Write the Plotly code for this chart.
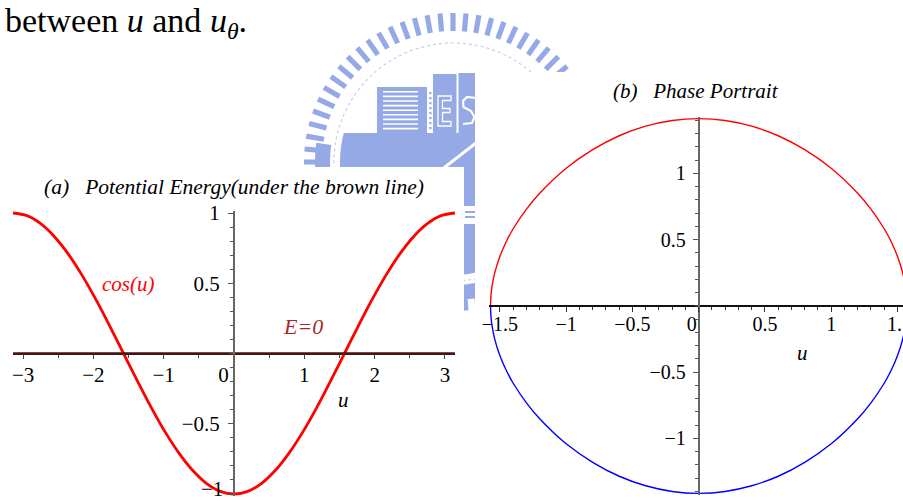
import math
import plotly.graph_objects as go

W, H = 903, 502

# ---------------- data ----------------
# (a) potential curve, sampled in u
u_pot = [-3.142, -2.945, -2.749, -2.553, -2.356, -2.160, -1.963, -1.767, -1.571,
         -1.374, -1.178, -0.982, -0.785, -0.589, -0.393, -0.196, 0.0,
         0.196, 0.393, 0.589, 0.785, 0.982, 1.178, 1.374, 1.571,
         1.767, 1.963, 2.160, 2.356, 2.553, 2.749, 2.945, 3.142]
potential = [1.0, 0.981, 0.924, 0.831, 0.707, 0.556, 0.383, 0.195, 0.0,
             -0.195, -0.383, -0.556, -0.707, -0.831, -0.924, -0.981, -1.0,
             -0.981, -0.924, -0.831, -0.707, -0.556, -0.383, -0.195, 0.0,
             0.195, 0.383, 0.556, 0.707, 0.831, 0.924, 0.981, 1.0]
# energy level E = 0
u_energy = [-3.142, 3.142]
energy = [0.0, 0.0]

# (b) phase portrait: upper (red) and lower (blue) branches
u_phase = [-1.5708, -1.5705, -1.568, -1.565, -1.56, -1.54, -1.50, -1.45, -1.40,
           -1.30, -1.20, -1.00, -0.80, -0.60, -0.40, -0.20, 0.0,
           0.20, 0.40, 0.60, 0.80, 1.00, 1.20, 1.30,
           1.40, 1.45, 1.50, 1.54, 1.56, 1.565, 1.568, 1.5705, 1.5708]
utheta_upper = [0.0, 0.025, 0.075, 0.108, 0.147, 0.248, 0.376, 0.491, 0.583,
                0.731, 0.851, 1.040, 1.180, 1.285, 1.357, 1.400, 1.414,
                1.400, 1.357, 1.285, 1.180, 1.040, 0.851, 0.731,
                0.583, 0.491, 0.376, 0.248, 0.147, 0.108, 0.075, 0.025, 0.0]
utheta_lower = [0.0, -0.025, -0.075, -0.108, -0.147, -0.248, -0.376, -0.491, -0.583,
                -0.731, -0.851, -1.040, -1.180, -1.285, -1.357, -1.400, -1.414,
                -1.400, -1.357, -1.285, -1.180, -1.040, -0.851, -0.731,
                -0.583, -0.491, -0.376, -0.248, -0.147, -0.108, -0.075, -0.025, 0.0]

# tick labels
a_xticks = [-3, -2, -1, 0, 1, 2, 3]
a_xtext = ["\u22123", "\u22122", "\u22121", "0\u2003", "1", "2", "3"]
a_yticks = [-1, -0.5, 0.5, 1]
a_ytext = ["\u22121", "\u22120.5", "0.5", "1"]
b_xticks = [-1.5, -1, -0.5, 0, 0.5, 1, 1.5]
b_xtext = ["\u22121.5", "\u22121", "\u22120.5", "0\u2002\u2009", "0.5", "1", "1.5"]
b_yticks = [-1, -0.5, 0.5, 1]
b_ytext = ["\u22121", "\u22120.5", "0.5", "1"]


def fx(px):
    return px / W


def fy(py):
    return 1 - py / H


SERIF = "Liberation Serif"
TICKFONT_A = dict(family=SERIF, size=21, color="black")
TICKFONT_B = dict(family=SERIF, size=20, color="black")

fig = go.Figure()

fig.add_trace(go.Scatter(x=u_pot, y=potential, mode="lines", xaxis="x", yaxis="y",
                         line=dict(color="#ff0000", width=2.8, shape="spline", smoothing=1.0),
                         hoverinfo="skip"))
fig.add_trace(go.Scatter(x=u_energy, y=energy, mode="lines", xaxis="x", yaxis="y",
                         line=dict(color="#4a1212", width=2.6), hoverinfo="skip"))
fig.add_trace(go.Scatter(x=u_phase, y=utheta_upper, mode="lines", xaxis="x2", yaxis="y2",
                         line=dict(color="#ff0000", width=1.4, shape="spline", smoothing=0.8),
                         hoverinfo="skip"))
fig.add_trace(go.Scatter(x=u_phase, y=utheta_lower, mode="lines", xaxis="x2", yaxis="y2",
                         line=dict(color="#0000ff", width=1.4, shape="spline", smoothing=0.8),
                         hoverinfo="skip"))

# ---------------- watermark emblem drawn behind the plots ----------------
LOGO = "#95a9e6"
CX, CY = 453, 162


def P(x, y):
    return f"{fx(x):.5f},{fy(y):.5f}"


def poly(pts):
    return "M" + " L".join(P(x, y) for x, y in pts) + " Z"


def circle_pts(r, a0, a1, n):
    out = []
    for i in range(n + 1):
        a = math.radians(a0 + (a1 - a0) * i / n)
        out.append((CX + r * math.cos(a), CY - r * math.sin(a)))
    return out


shapes = []

# comb of teeth around the ring
teeth = []
step = 5.0
a = 0.0
while a < 360:
    t = math.radians(a)
    c, s = math.cos(t), math.sin(t)
    half = 2.6
    r0, r1 = 131, 149
    pts = [(CX + r0 * c - half * s, CY - r0 * s - half * c),
           (CX + r1 * c - half * s, CY - r1 * s - half * c),
           (CX + r1 * c + half * s, CY - r1 * s + half * c),
           (CX + r0 * c + half * s, CY - r0 * s + half * c)]
    teeth.append(poly(pts))
    a += step
shapes.append(dict(type="path", path=" ".join(teeth), xref="paper", yref="paper",
                   fillcolor=LOGO, line=dict(width=0), layer="below"))

# solid band along the lower half of the ring
outer = circle_pts(138, 172, 368, 90)
inner = circle_pts(123, 368, 172, 90)
shapes.append(dict(type="path", path=poly(outer + inner), xref="paper", yref="paper",
                   fillcolor=LOGO, line=dict(width=0), layer="below"))

# faint inner circle
shapes.append(dict(type="path", path=poly(circle_pts(119, 0, 360, 120)), xref="paper", yref="paper",
                   fillcolor="rgba(0,0,0,0)", line=dict(color="#c3cef2", width=1.2, dash="dot"),
                   layer="below"))

# hull: lower segment of the inner disk
hr = 113
a_top = math.degrees(math.asin((CY - 133) / hr))
hull = circle_pts(hr, a_top, -180 - a_top, 80)
shapes.append(dict(type="path", path=poly(hull), xref="paper", yref="paper",
                   fillcolor=LOGO, line=dict(width=0), layer="below"))


def rect(x0, y0, x1, y1, color):
    return dict(type="rect", x0=fx(x0), x1=fx(x1), y0=fy(y1), y1=fy(y0), xref="paper", yref="paper",
                fillcolor=color, line=dict(width=0), layer="below")


# buildings on deck
shapes.append(rect(377, 87, 427, 134, LOGO))
for i in range(9):
    yy = 91 + i * 4.6
    shapes.append(rect(383, yy, 418, yy + 1.6, "white"))
for i in range(8):
    yy = 92 + i * 5
    shapes.append(rect(429.3, yy, 431.5, yy + 2.2, LOGO))
shapes.append(rect(433, 74, 456.5, 134, LOGO))
shapes.append(rect(458.5, 73, 480, 134, LOGO))
e_outline = [(438, 96), (451, 96), (451, 100.5), (442.5, 100.5), (442.5, 108.5), (450, 108.5),
             (450, 112.5), (442.5, 112.5), (442.5, 121.5), (451, 121.5), (451, 126), (438, 126)]
shapes.append(dict(type="path", path=poly(e_outline), xref="paper", yref="paper",
                   fillcolor="rgba(0,0,0,0)", line=dict(color="white", width=1.3), layer="below"))
s_curve = [(476, 98), (467, 97), (463, 101), (463.5, 107), (471, 111), (474.5, 117),
           (472, 123), (463, 124)]
shapes.append(dict(type="path", path="M" + " L".join(P(x, y) for x, y in s_curve),
                   xref="paper", yref="paper", line=dict(color="white", width=2.2), layer="below"))
# diagonal stripe across the hull
shapes.append(dict(type="line", x0=fx(436), y0=fy(174), x1=fx(485), y1=fy(136), xref="paper",
                   yref="paper", line=dict(color="white", width=3), layer="below"))
# small badge on the lower hull
shapes.append(rect(462, 206, 480, 224, "white"))
shapes.append(rect(465, 211, 480, 213, LOGO))
shapes.append(rect(465, 216, 480, 218, LOGO))

# white backgrounds of the two plot panels
shapes.append(rect(0, 167, 464, 502, "white"))
shapes.append(rect(475, 72, 903, 502, "white"))

# ---------------- axes ----------------
# panel (a): u in [-pi, pi], value in [-1, 1]
ax_x0, ax_x1 = 13.1, 454.9
ay_top, ay_bot = 213, 494
a_x_zero_px = 234.0
a_y_zero_px = 353.5
# panel (b)
b_scale = 132.5
b_x0_px = 698.7
b_y0_px = 306.0
b_xr = [-1.585, (W - b_x0_px) / b_scale]
b_yr = [-1.425, 1.425]

axis_common = dict(showgrid=False, zeroline=False, showline=True, ticks="outside",
                   tickmode="array", anchor="free", fixedrange=True)

fig.update_layout(
    width=W, height=H, autosize=False,
    margin=dict(l=0, r=0, t=0, b=0, pad=0, autoexpand=False),
    paper_bgcolor="white", plot_bgcolor="rgba(0,0,0,0)",
    showlegend=False,
    xaxis=dict(axis_common, domain=[fx(ax_x0), fx(ax_x1)], range=[-math.pi, math.pi],
               position=fy(a_y_zero_px), tickvals=a_xticks, ticktext=a_xtext, tickfont=TICKFONT_A,
               linecolor="#222222", linewidth=1.5, tickcolor="#444444", ticklen=5, tickwidth=1.2,
               layer="below traces", ticklabelstandoff=-2,
               minor=dict(tickmode="linear", tick0=0, dtick=0.5, ticks="outside", ticklen=4,
                          tickcolor="#444444", tickwidth=1.2)),
    yaxis=dict(axis_common, domain=[fy(ay_bot + 2), fy(ay_top - 2)],
               range=[-1 - 2 / 140.5, 1 + 2 / 140.5],
               position=fx(a_x_zero_px), tickvals=a_yticks, ticktext=a_ytext, tickfont=TICKFONT_A,
               linecolor="#666666", linewidth=2, tickcolor="#555555", ticklen=5, tickwidth=1.2,
               ticklabelstandoff=4,
               minor=dict(tickmode="linear", tick0=0, dtick=0.1, ticks="outside", ticklen=3,
                          tickcolor="#555555", tickwidth=1.2)),
    xaxis2=dict(axis_common, domain=[fx(b_x0_px + b_xr[0] * b_scale), 1.0], range=b_xr,
                position=fy(b_y0_px), tickvals=b_xticks, ticktext=b_xtext, tickfont=TICKFONT_B,
                linecolor="#111111", linewidth=1.5, tickcolor="#333333", ticklen=5, tickwidth=1.2,
                ticklabelstandoff=-5,
                minor=dict(tickmode="linear", tick0=0, dtick=0.1, ticks="outside", ticklen=3,
                           tickcolor="#333333", tickwidth=1.2)),
    yaxis2=dict(axis_common, domain=[fy(b_y0_px - b_yr[0] * b_scale), fy(b_y0_px - b_yr[1] * b_scale)],
                range=b_yr, position=fx(b_x0_px), tickvals=b_yticks, ticktext=b_ytext,
                tickfont=TICKFONT_B, ticklabelstandoff=3,
                linecolor="#666666", linewidth=2, tickcolor="#555555", ticklen=5, tickwidth=1.2,
                minor=dict(tickmode="linear", tick0=0, dtick=0.1, ticks="outside", ticklen=3,
                           tickcolor="#555555", tickwidth=1.2)),
    shapes=shapes,
)


def note(text, x, y, size, color="black", xanchor="center", yanchor="middle"):
    fig.add_annotation(text=text, x=fx(x), y=fy(y), xref="paper", yref="paper",
                       xanchor=xanchor, yanchor=yanchor, showarrow=False, align="left",
                       borderpad=0,
                       font=dict(family=SERIF, size=size, color=color))


note("between <i>u</i> and <i>u<sub>\u03b8</sub></i>.", 4, 1, 34, xanchor="left", yanchor="top")
note("<i>(a)\u00a0\u00a0\u00a0Potential Energy(under the brown line)</i>", 233.5, 186.5, 21.5)
note("<i>(b)\u00a0\u00a0\u00a0Phase Portrait</i>", 696, 91, 21)
note("<i>cos(u)</i>", 128, 284, 21, color="#ff0000")
note("<i>E=0</i>", 303, 326, 22, color="#a52a2a")
note("<i>u</i>", 343, 400, 21)
note("<i>u</i>", 802, 353, 21)
# tick labels sitting on the page edges, kept inside the page
note("1.", 903, 324, 20, xanchor="right")
note("\u22121", 224, 502, 21, xanchor="right", yanchor="bottom")

fig.write_html("out.html")
